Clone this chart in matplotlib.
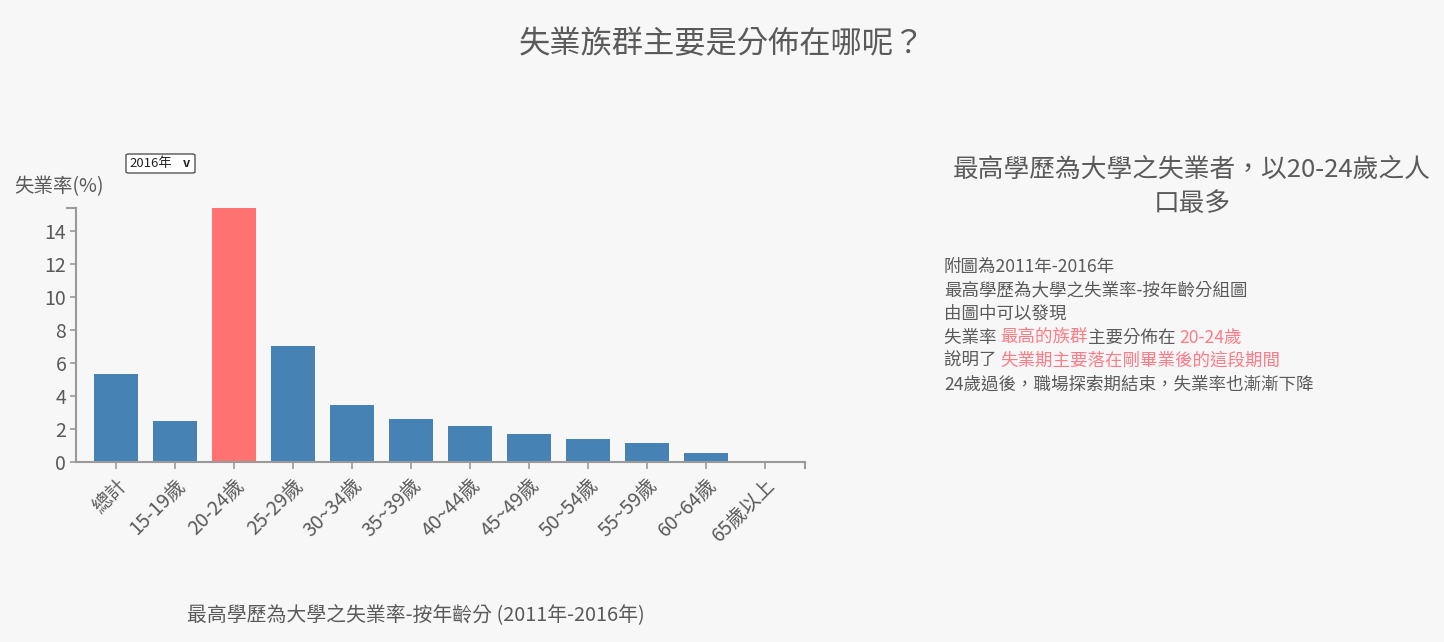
import matplotlib
matplotlib.use("Agg")
import matplotlib.pyplot as plt
from matplotlib.patches import FancyBboxPatch

plt.rcParams['font.family'] = ['Noto Sans CJK TC', 'DejaVu Sans']

groups = ['總計', '15-19歲', '20-24歲', '25-29歲', '30~34歲', '35~39歲',
          '40~44歲', '45~49歲', '50~54歲', '55~59歲', '60~64歲', '65歲以上']
rates = [5.34, 2.48, 15.4, 7.03, 3.47, 2.6, 2.16, 1.69, 1.41, 1.17, 0.57, 0.05]
yticks = [0, 2, 4, 6, 8, 10, 12, 14]
highlight = '20-24歲'

body_lines = [
    [('附圖為2011年-2016年', 'n')],
    [('最高學歷為大學之失業率-按年齡分組圖', 'n')],
    [('由圖中可以發現', 'n')],
    [('失業率 ', 'n'), ('最高的族群', 'r'), ('主要分佈在 ', 'n'), ('20-24歲', 'r')],
    [('說明了 ', 'n'), ('失業期主要落在剛畢業後的這段期間', 'r')],
    [('24歲過後，職場探索期結束，失業率也漸漸下降', 'n')],
]

BG = '#f7f7f7'
GREY = '#5a5a5a'
AXC = '#9a9a9a'
BLUE = '#4682b4'
RED = '#ff7272'
TXT_RED = '#ff7b86'

W, H = 1444, 642
fig = plt.figure(figsize=(W / 100, H / 100), dpi=100, facecolor=BG)

ax = fig.add_axes([76 / W, 1 - 462 / H, (805 - 76) / W, (462 - 208) / H])
ax.set_facecolor(BG)
colors = [RED if g == highlight else BLUE for g in groups]
ax.bar(range(len(groups)), rates, width=0.746, color=colors)
ax.set_xlim(-0.678, len(groups) - 1 + 0.678)
ax.set_ylim(0, max(rates))
ax.set_yticks(yticks)
ax.set_xticks(range(len(groups)))
ax.set_xticklabels(groups, rotation=45, ha='right', rotation_mode='anchor',
                   fontsize=14, color=GREY)
ax.tick_params(axis='y', labelsize=14, labelcolor=GREY, color=AXC, length=4, width=1.2, pad=3)
ax.tick_params(axis='x', color=AXC, length=5, width=1.2, pad=4)
for s in ['top', 'right']:
    ax.spines[s].set_visible(False)
for s in ['left', 'bottom']:
    ax.spines[s].set_color(AXC)
    ax.spines[s].set_linewidth(1.5)

# outer end ticks like the d3 axis domain path
ax.plot([-0.012, 0], [1, 1], transform=ax.transAxes, color=AXC, lw=1.5, clip_on=False)
ax.plot([1, 1], [0, -0.025], transform=ax.transAxes, color=AXC, lw=1.5, clip_on=False)

# headings and labels
fig.text(722 / W, 1 - 44 / H, '失業族群主要是分佈在哪呢？', ha='center', va='center',
         fontsize=22.5, color=GREY)
fig.text(14 / W, 1 - 187 / H, '失業率(%)', ha='left', va='center', fontsize=14, color=GREY)
fig.text(416 / W, 1 - 615 / H, '最高學歷為大學之失業率-按年齡分 (2011年-2016年)',
         ha='center', va='center', fontsize=14.3, color=GREY)

# year selector
box = FancyBboxPatch((126 / W, 1 - 173 / H), 69 / W, 19 / H,
                     boxstyle='round,pad=0,rounding_size=0.002',
                     transform=fig.transFigure, facecolor='white',
                     edgecolor='#555555', linewidth=1)
fig.patches.append(box)
fig.text(129 / W, 1 - 163.5 / H, '2016年', ha='left', va='center', fontsize=9.5,
         color='#222222')
fig.text(186 / W, 1 - 163.5 / H, 'v', ha='center', va='center', fontsize=9,
         fontweight='bold', color='#222222')

# right panel
fig.text(1192 / W, 1 - 170 / H, '最高學歷為大學之失業者，以20-24歲之人', ha='center',
         va='center', fontsize=18.5, color=GREY)
fig.text(1192 / W, 1 - 204 / H, '口最多', ha='center', va='center', fontsize=18.5,
         color=GREY)

fig.canvas.draw()
renderer = fig.canvas.get_renderer()
y0 = 267
for i, line in enumerate(body_lines):
    x = 944
    y = y0 + i * 23.5
    for seg, kind in line:
        t = fig.text(x / W, 1 - y / H, seg, ha='left', va='center', fontsize=12.6,
                     color=TXT_RED if kind == 'r' else GREY)
        bb = t.get_window_extent(renderer=renderer)
        x += bb.width

fig.savefig('out.png', dpi=100, facecolor=BG)
